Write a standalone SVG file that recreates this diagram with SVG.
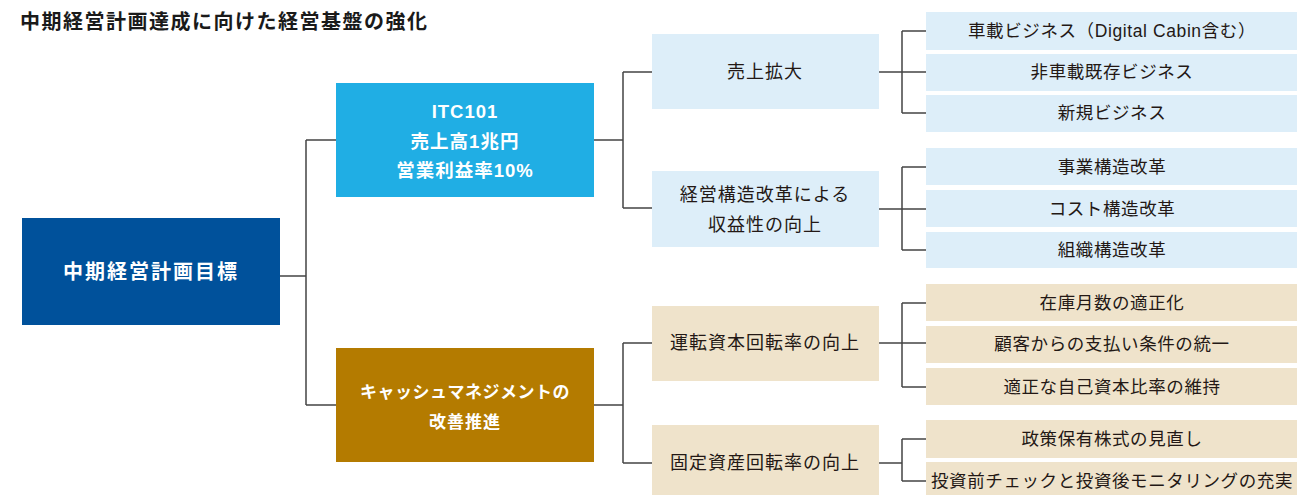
<svg xmlns="http://www.w3.org/2000/svg" width="1297" height="495" viewBox="0 0 1297 495">
<style>
text{font-family:"Liberation Sans","Noto Sans CJK JP",sans-serif;text-anchor:middle;dominant-baseline:central}
.title{font-size:20px;font-weight:700;fill:#1a1a1a;text-anchor:start;letter-spacing:1.5px}
.w{fill:#fff;font-weight:700}
.d{fill:#231815}
.mid{font-size:18px;letter-spacing:1px}
.leaf{font-size:17.5px;letter-spacing:0.6px}
.blue{fill:#ddeef9}
.beige{fill:#efe3cb}
.conn{fill:none;stroke:#444;stroke-width:1.5}
</style>
<rect width="1297" height="495" fill="#fff"/>
<text class="title" x="20" y="22">中期経営計画達成に向けた経営基盤の強化</text>
<g id="connectors" class="conn">
<path d="M280 276H306M306 140V405M306 140H336M306 405H336"/>
<path d="M594 140H623M623 72V208M623 72H652M623 208H652"/>
<path d="M594 405H623M623 343V463M623 343H652M623 463H652"/>
<path d="M879 72H926M902 31V113M902 31H926M902 113H926"/>
<path d="M879 209H926M902 167V250M902 167H926M902 250H926"/>
<path d="M879 343H926M902 303V387M902 303H926M902 387H926"/>
<path d="M879 463H902M902 439V481M902 439H926M902 481H926"/>
</g>
<g id="root"><rect x="22" y="218" width="258" height="107" fill="#00519b"/><text class="w" x="151" y="272" font-size="20" letter-spacing="2">中期経営計画目標</text></g>
<g id="itc"><rect x="336" y="83" width="258" height="114" fill="#20aee4"/>
<text class="w" x="465" y="111" font-size="18.5" letter-spacing="1">ITC101</text>
<text class="w" x="465" y="141" font-size="18.5" letter-spacing="1">売上高1兆円</text>
<text class="w" x="465" y="170" font-size="18.5" letter-spacing="1">営業利益率10%</text></g>
<g id="cash"><rect x="336" y="348" width="258" height="114" fill="#b47b00"/>
<text class="w" x="465" y="392" font-size="17" letter-spacing="0.5">キャッシュマネジメントの</text>
<text class="w" x="465" y="422" font-size="17" letter-spacing="1">改善推進</text></g>
<g id="m1"><rect class="blue" x="652" y="34" width="227" height="75"/><text class="d mid" x="765" y="72">売上拡大</text></g>
<g id="m2"><rect class="blue" x="652" y="171" width="227" height="76"/><text class="d mid" x="765" y="195">経営構造改革による</text><text class="d mid" x="765" y="225">収益性の向上</text></g>
<g id="m3"><rect class="beige" x="652" y="306" width="227" height="75"/><text class="d mid" x="765" y="343">運転資本回転率の向上</text></g>
<g id="m4"><rect class="beige" x="652" y="425" width="227" height="75"/><text class="d mid" x="765" y="463">固定資産回転率の向上</text></g>
<g id="l1"><rect class="blue" x="926" y="12" width="371" height="38"/><text class="d leaf" x="1112" y="31" letter-spacing="0.2">車載ビジネス（Digital Cabin含む）</text></g>
<g id="l2"><rect class="blue" x="926" y="54" width="371" height="37"/><text class="d leaf" x="1112" y="72">非車載既存ビジネス</text></g>
<g id="l3"><rect class="blue" x="926" y="95" width="371" height="37"/><text class="d leaf" x="1112" y="113">新規ビジネス</text></g>
<g id="l4"><rect class="blue" x="926" y="148" width="371" height="37"/><text class="d leaf" x="1112" y="167">事業構造改革</text></g>
<g id="l5"><rect class="blue" x="926" y="190" width="371" height="37"/><text class="d leaf" x="1112" y="209">コスト構造改革</text></g>
<g id="l6"><rect class="blue" x="926" y="232" width="371" height="36"/><text class="d leaf" x="1112" y="250">組織構造改革</text></g>
<g id="l7"><rect class="beige" x="926" y="284" width="371" height="37"/><text class="d leaf" x="1112" y="303">在庫月数の適正化</text></g>
<g id="l8"><rect class="beige" x="926" y="326" width="371" height="37"/><text class="d leaf" x="1112" y="344">顧客からの支払い条件の統一</text></g>
<g id="l9"><rect class="beige" x="926" y="368" width="371" height="37"/><text class="d leaf" x="1112" y="387">適正な自己資本比率の維持</text></g>
<g id="l10"><rect class="beige" x="926" y="420" width="371" height="38"/><text class="d leaf" x="1112" y="439">政策保有株式の見直し</text></g>
<g id="l11"><rect class="beige" x="926" y="462" width="371" height="38"/><text class="d leaf" x="1112" y="481" letter-spacing="-0.3">投資前チェックと投資後モニタリングの充実</text></g>
</svg>
